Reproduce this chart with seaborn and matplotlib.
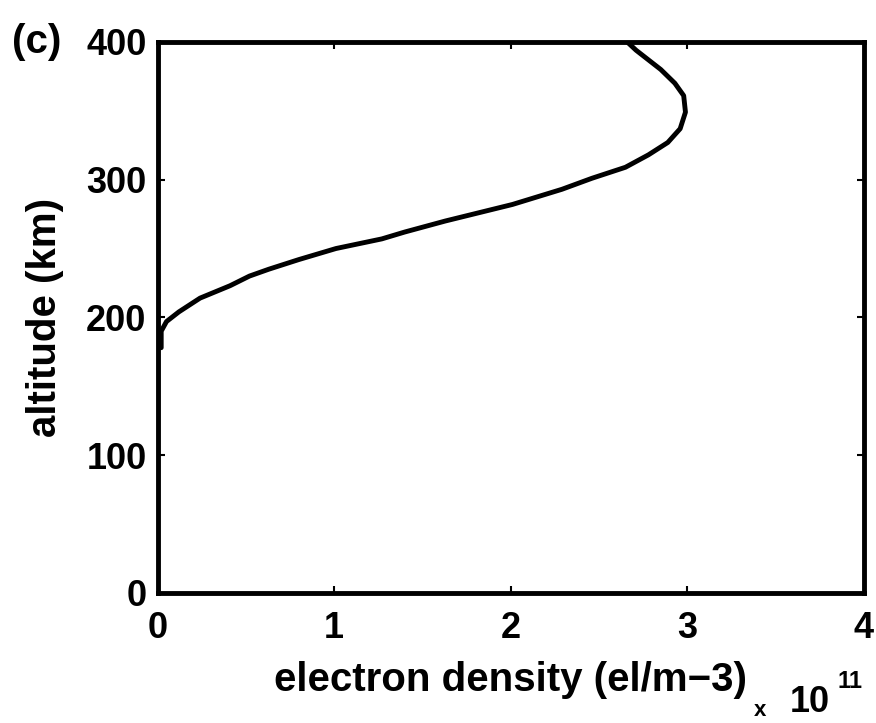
import matplotlib
matplotlib.use("Agg")
import matplotlib.pyplot as plt
import seaborn as sns
import pandas as pd

# electron density (units of 1e11 el/m^3) vs altitude (km)
altitude = [178, 190, 197, 204, 214, 223, 230, 235, 242, 250, 257, 262, 270,
            282, 293, 301, 309, 318, 327, 337, 349, 361, 370, 380, 387, 394, 400]
density = [0.02, 0.02, 0.05, 0.12, 0.24, 0.41, 0.52, 0.63, 0.80, 1.01, 1.27,
           1.40, 1.63, 2.01, 2.29, 2.46, 2.65, 2.78, 2.89, 2.96, 2.99, 2.98,
           2.93, 2.85, 2.78, 2.71, 2.66]
x_ticks = [0, 1, 2, 3, 4]
y_ticks = [0, 100, 200, 300, 400]

sns.set_theme(style="white")
plt.rcParams['font.family'] = ['Liberation Sans', 'DejaVu Sans']
plt.rcParams['text.color'] = 'black'

FS = 26
LFS = 29

fig = plt.figure(figsize=(8.76, 7.23), dpi=100)
ax = fig.add_axes([0.180, 0.180, 0.806, 0.762])

df = pd.DataFrame({"density": density, "altitude": altitude})
sns.lineplot(data=df, x="density", y="altitude", orient="y", sort=False,
             color="black", linewidth=3.5, ax=ax)

ax.set_xlim(0, 4)
ax.set_ylim(0, 400)
ax.set_xticks(x_ticks)
ax.set_yticks(y_ticks)
ax.set_xticklabels([str(v) for v in x_ticks], fontsize=FS, fontweight="bold")
ax.set_yticklabels([str(v) for v in y_ticks], fontsize=FS, fontweight="bold")
ax.tick_params(direction="in", length=5, width=1.5, top=True, right=True,
               bottom=True, left=True, colors="black")
ax.tick_params(axis="x", pad=13)
ax.tick_params(axis="y", pad=8)
for s in ax.spines.values():
    s.set_visible(True)
    s.set_color("black")
    s.set_linewidth(3.5)

ax.set_xlabel("electron density (el/m\u22123)", fontsize=LFS, fontweight="bold",
              color="black")
ax.xaxis.set_label_coords(0.5, -0.158)
ax.xaxis.label.set_va("center")
ax.set_ylabel("altitude (km)", fontsize=LFS, fontweight="bold", color="black")
ax.yaxis.set_label_coords(-0.159, 0.5)
ax.yaxis.label.set_va("center")

fig.text(760 / 876, 1 - 711 / 723, "x", fontsize=16, fontweight="bold",
         ha="center", va="center")
fig.text(810 / 876, 1 - 703 / 723, "10", fontsize=FS, fontweight="bold",
         ha="center", va="center")
fig.text(850 / 876, 1 - 682 / 723, "11", fontsize=17, fontweight="bold",
         ha="center", va="center")
fig.text(12 / 876, 1 - 42 / 723, "(c)", fontsize=29, fontweight="bold",
         ha="left", va="center")

fig.savefig("out.png", dpi=100, facecolor="white")
